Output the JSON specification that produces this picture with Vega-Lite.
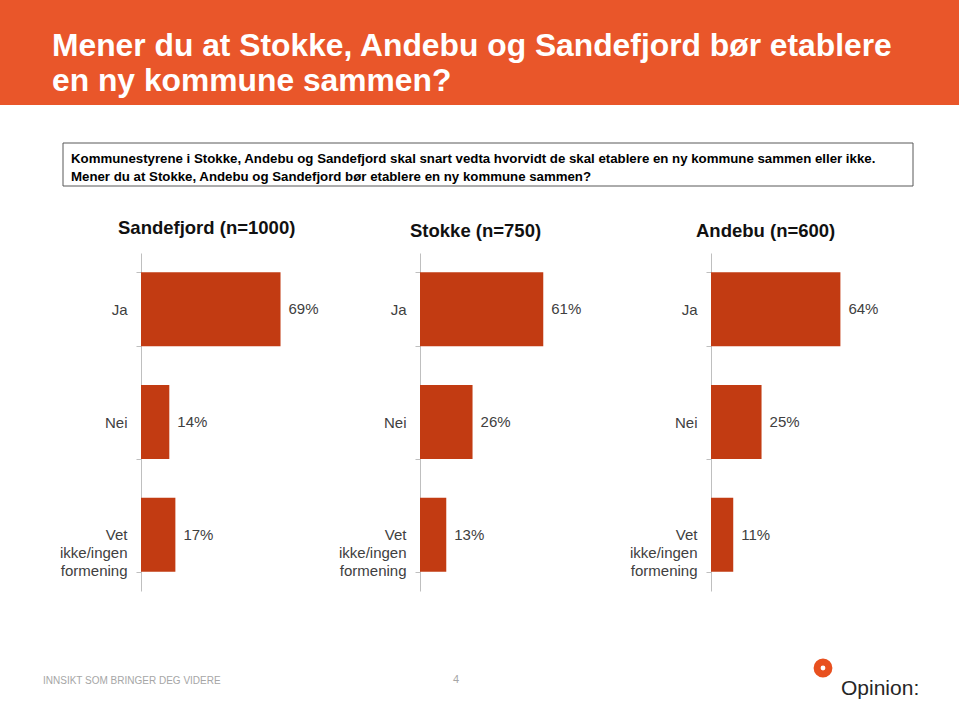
{
  "$schema": "https://vega.github.io/schema/vega-lite/v6.json",
  "background": "white",
  "padding": 0,
  "spacing": 31,
  "config": {"view": {"stroke": null}, "font": "Liberation Sans"},
  "datasets": {
    "survey": [
      {"region": "Sandefjord", "answer": "Ja", "value": 0.69},
      {"region": "Sandefjord", "answer": "Nei", "value": 0.14},
      {"region": "Sandefjord", "answer": "Vet ikke/ingen formening", "value": 0.17},
      {"region": "Stokke", "answer": "Ja", "value": 0.61},
      {"region": "Stokke", "answer": "Nei", "value": 0.26},
      {"region": "Stokke", "answer": "Vet ikke/ingen formening", "value": 0.13},
      {"region": "Andebu", "answer": "Ja", "value": 0.64},
      {"region": "Andebu", "answer": "Nei", "value": 0.25},
      {"region": "Andebu", "answer": "Vet ikke/ingen formening", "value": 0.11}
    ]
  },
  "vconcat": [
    {
      "spacing": 37,
      "vconcat": [
        {
          "width": 959,
          "height": 105,
          "layer": [
            {"data": {"values": [{"band": "header"}]}, "mark": {"type": "rect", "fill": "#e9562a"}, "encoding": {}},
            {"data": {"values": [{"text": "Mener du at Stokke, Andebu og Sandefjord bør etablere"}]},
             "mark": {"type": "text", "x": 52, "y": 56, "align": "left", "baseline": "alphabetic", "fontSize": 31.8, "fontWeight": "bold", "color": "white", "font": "Liberation Sans"},
             "encoding": {"text": {"field": "text"}}},
            {"data": {"values": [{"text": "en ny kommune sammen?"}]},
             "mark": {"type": "text", "x": 52, "y": 91, "align": "left", "baseline": "alphabetic", "fontSize": 31.8, "fontWeight": "bold", "color": "white", "font": "Liberation Sans"},
             "encoding": {"text": {"field": "text"}}}
          ]
        },
        {
          "spacing": 0,
          "hconcat": [
            {"width": 62, "height": 43, "data": {"values": []}, "mark": "rect", "encoding": {}},
            {
              "width": 850,
              "height": 43,
              "layer": [
                {"data": {"values": [{"box": "question"}]}, "mark": {"type": "rect", "fill": "white", "stroke": "#595959", "strokeWidth": 1}, "encoding": {}},
                {"data": {"values": [{"text": "Kommunestyrene i Stokke, Andebu og Sandefjord skal snart vedta hvorvidt de skal etablere en ny kommune sammen eller ikke."}]},
                 "mark": {"type": "text", "x": 8, "y": 20, "align": "left", "baseline": "alphabetic", "fontSize": 13.25, "fontWeight": "bold", "color": "black", "font": "Liberation Sans"},
                 "encoding": {"text": {"field": "text"}}},
                {"data": {"values": [{"text": "Mener du at Stokke, Andebu og Sandefjord bør etablere en ny kommune sammen?"}]},
                 "mark": {"type": "text", "x": 8, "y": 38, "align": "left", "baseline": "alphabetic", "fontSize": 13.25, "fontWeight": "bold", "color": "black", "font": "Liberation Sans"},
                 "encoding": {"text": {"field": "text"}}}
              ]
            }
          ]
        }
      ]
    },
    {
      "spacing": 14,
      "hconcat": [
        {"width": 45, "height": 338, "data": {"values": []}, "mark": "rect", "encoding": {}},
        {
          "width": 183, "height": 338,
          "data": {"name": "survey"},
          "transform": [{"filter": "datum.region == 'Sandefjord'"}],
          "title": {"text": "Sandefjord (n=1000)", "anchor": "start", "frame": "group", "dx": -23, "offset": 9, "fontSize": 18.5, "fontWeight": "bold", "color": "#111111", "font": "Liberation Sans"},
          "encoding": {
            "y": {"field": "answer", "type": "nominal", "sort": ["Ja", "Nei", "Vet ikke/ingen formening"],
              "scale": {"paddingInner": 0.343, "paddingOuter": 0.1715},
              "axis": {"title": null, "domainColor": "#bfbfbf", "tickColor": "#bfbfbf", "tickSize": 5, "tickBand": "extent", "labelPadding": 9, "labelFontSize": 15, "labelColor": "#404040", "labelFont": "Liberation Sans", "labelLineHeight": 18, "labelLimit": 200, "labelExpr": "datum.value == 'Vet ikke/ingen formening' ? ['Vet', 'ikke/ingen', 'formening'] : datum.value"}},
            "x": {"field": "value", "type": "quantitative", "scale": {"domain": [0, 0.905]}, "axis": null}
          },
          "layer": [
            {"mark": {"type": "bar", "color": "#c23b12"}},
            {"mark": {"type": "text", "align": "left", "dx": 8, "fontSize": 15, "color": "#404040", "font": "Liberation Sans"}, "encoding": {"text": {"field": "value", "type": "quantitative", "format": ".0%"}}}
          ]
        },
        {
          "width": 195, "height": 338,
          "data": {"name": "survey"},
          "transform": [{"filter": "datum.region == 'Stokke'"}],
          "title": {"text": "Stokke (n=750)", "anchor": "start", "frame": "group", "dx": -10, "offset": 6, "fontSize": 18.5, "fontWeight": "bold", "color": "#111111", "font": "Liberation Sans"},
          "encoding": {
            "y": {"field": "answer", "type": "nominal", "sort": ["Ja", "Nei", "Vet ikke/ingen formening"],
              "scale": {"paddingInner": 0.343, "paddingOuter": 0.1715},
              "axis": {"title": null, "domainColor": "#bfbfbf", "tickColor": "#bfbfbf", "tickSize": 5, "tickBand": "extent", "labelPadding": 9, "labelFontSize": 15, "labelColor": "#404040", "labelFont": "Liberation Sans", "labelLineHeight": 18, "labelLimit": 200, "labelExpr": "datum.value == 'Vet ikke/ingen formening' ? ['Vet', 'ikke/ingen', 'formening'] : datum.value"}},
            "x": {"field": "value", "type": "quantitative", "scale": {"domain": [0, 0.965]}, "axis": null}
          },
          "layer": [
            {"mark": {"type": "bar", "color": "#c23b12"}},
            {"mark": {"type": "text", "align": "left", "dx": 8, "fontSize": 15, "color": "#404040", "font": "Liberation Sans"}, "encoding": {"text": {"field": "value", "type": "quantitative", "format": ".0%"}}}
          ]
        },
        {
          "width": 185, "height": 338,
          "data": {"name": "survey"},
          "transform": [{"filter": "datum.region == 'Andebu'"}],
          "title": {"text": "Andebu (n=600)", "anchor": "start", "frame": "group", "dx": -15, "offset": 6, "fontSize": 18.5, "fontWeight": "bold", "color": "#111111", "font": "Liberation Sans"},
          "encoding": {
            "y": {"field": "answer", "type": "nominal", "sort": ["Ja", "Nei", "Vet ikke/ingen formening"],
              "scale": {"paddingInner": 0.343, "paddingOuter": 0.1715},
              "axis": {"title": null, "domainColor": "#bfbfbf", "tickColor": "#bfbfbf", "tickSize": 5, "tickBand": "extent", "labelPadding": 9, "labelFontSize": 15, "labelColor": "#404040", "labelFont": "Liberation Sans", "labelLineHeight": 18, "labelLimit": 200, "labelExpr": "datum.value == 'Vet ikke/ingen formening' ? ['Vet', 'ikke/ingen', 'formening'] : datum.value"}},
            "x": {"field": "value", "type": "quantitative", "scale": {"domain": [0, 0.915]}, "axis": null}
          },
          "layer": [
            {"mark": {"type": "bar", "color": "#c23b12"}},
            {"mark": {"type": "text", "align": "left", "dx": 8, "fontSize": 15, "color": "#404040", "font": "Liberation Sans"}, "encoding": {"text": {"field": "value", "type": "quantitative", "format": ".0%"}}}
          ]
        }
      ]
    },
    {
      "width": 959,
      "height": 79,
      "layer": [
        {"data": {"values": [{"text": "INNSIKT SOM BRINGER DEG VIDERE"}]},
         "mark": {"type": "text", "x": 43, "y": 59, "align": "left", "baseline": "middle", "fontSize": 10, "color": "#a6a6a6", "font": "Liberation Sans"},
         "encoding": {"text": {"field": "text"}}},
        {"data": {"values": [{"text": "4"}]},
         "mark": {"type": "text", "x": 453, "y": 58, "align": "left", "baseline": "middle", "fontSize": 11, "color": "#a6a6a6", "font": "Liberation Sans"},
         "encoding": {"text": {"field": "text"}}},
        {"data": {"values": [{"logo": "ring"}]},
         "mark": {"type": "point", "x": 823, "y": 46, "shape": "circle", "filled": false, "size": 140, "strokeWidth": 7, "stroke": "#e8501f", "opacity": 1},
         "encoding": {}},
        {"data": {"values": [{"text": "Opinion:"}]},
         "mark": {"type": "text", "x": 841, "y": 73, "align": "left", "baseline": "alphabetic", "fontSize": 21, "color": "#262626", "font": "Liberation Sans"},
         "encoding": {"text": {"field": "text"}}}
      ]
    }
  ]
}
